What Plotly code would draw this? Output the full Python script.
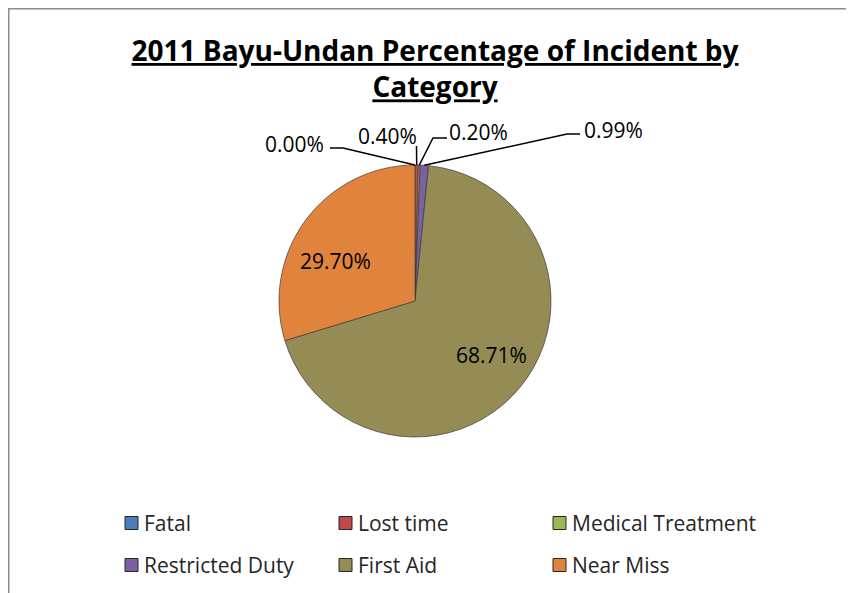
import math
import plotly.graph_objects as go

categories = ["Fatal", "Lost time", "Medical Treatment", "Restricted Duty", "First Aid", "Near Miss"]
percentages = [0.00, 0.40, 0.20, 0.99, 68.71, 29.70]
colors = ["#4A7EBB", "#BE4B48", "#98B954", "#7D60A0", "#958B54", "#E0843D"]
title_lines = ["2011 Bayu-Undan Percentage of Incident by", "Category"]

# the page adds an 8px body margin; work in screen pixels and convert
OFF = 8
W, H = 846, 585
cx, cy, R = 415, 301, 136

def px(x):
    return (x - OFF) / W

def py(y):
    return (H - (y - OFF)) / H

fig = go.Figure()
fig.add_trace(go.Pie(
    labels=categories,
    values=percentages,
    textinfo="none",
    sort=False,
    direction="clockwise",
    rotation=0,
    marker=dict(colors=colors, line=dict(color="rgba(60,60,60,0.7)", width=1)),
    domain=dict(x=[px(cx - R), px(cx + R)], y=[py(cy + R), py(cy - R)]),
    hoverinfo="label+percent",
    showlegend=False,
))

# data-label layout (screen px): text anchor, anchor side, leader elbow points
label_layout = {
    0: dict(tx=326, ty=144, xanchor="right", elbow=[(330, 148), (343, 148)]),
    1: dict(tx=419, ty=136, xanchor="right", elbow=[(416.5, 146)]),
    2: dict(tx=447, ty=132, xanchor="left", elbow=[(447, 138), (433, 138)]),
    3: dict(tx=582, ty=130, xanchor="left", elbow=[(580, 134), (567, 134)]),
    4: dict(tx=491, ty=355, xanchor="center", elbow=None),
    5: dict(tx=335, ty=261, xanchor="center", elbow=None),
}

total = sum(percentages)
cum = 0.0
shapes = []
annotations = []
label_font = dict(family="Open Sans", size=21, color="#000000")
for i, p in enumerate(percentages):
    mid = (cum + p / 2) / total * 2 * math.pi
    cum += p
    L = label_layout[i]
    if L["elbow"] is not None:
        tipx = cx + R * math.sin(mid)
        tipy = cy - R * math.cos(mid)
        pts = L["elbow"] + [(tipx, tipy)]
        path = "M " + " L ".join(f"{px(x):.5f},{py(y):.5f}" for x, y in pts)
        shapes.append(dict(type="path", xref="paper", yref="paper", path=path,
                           line=dict(color="#000000", width=1.5)))
    annotations.append(dict(x=px(L["tx"]), y=py(L["ty"]), xref="paper", yref="paper",
                            text=f"{p:.2f}%", showarrow=False, xanchor=L["xanchor"],
                            yanchor="middle", font=label_font))

# legend: 3 columns x 2 rows (screen px)
leg_x0, leg_y0, col_w, row_h, sym = 125, 523, 214, 42, 13
for i, (name, col) in enumerate(zip(categories, colors)):
    r, c = divmod(i, 3)
    sx = leg_x0 + c * col_w
    sy = leg_y0 + r * row_h
    shapes.append(dict(type="rect", xref="paper", yref="paper",
                       x0=px(sx), x1=px(sx + sym), y0=py(sy + sym / 2), y1=py(sy - sym / 2),
                       fillcolor=col, line=dict(color="#262626", width=1)))
    annotations.append(dict(x=px(sx + 17), y=py(sy), xref="paper", yref="paper",
                            text=name, showarrow=False, xanchor="left", yanchor="middle",
                            font=dict(family="Open Sans", size=21, color="#262626")))

# outer chart frame (as close to the page corner as the figure allows)
shapes.append(dict(type="rect", xref="paper", yref="paper",
                   x0=px(OFF + 0.75), x1=px(848), y0=-0.2, y1=py(OFF + 0.75),
                   line=dict(color="#8C8C8C", width=1.5), fillcolor="rgba(0,0,0,0)"))

fig.update_layout(
    width=W, height=H,
    margin=dict(l=0, r=0, t=0, b=0),
    paper_bgcolor="#FFFFFF",
    plot_bgcolor="#FFFFFF",
    showlegend=False,
    title=dict(
        text="<br>".join(f"<u>{t}</u>" for t in title_lines),
        x=px(435), xanchor="center", y=py(61), yanchor="top",
        font=dict(family="Open Sans", size=28, color="#000000", weight="bold"),
    ),
    shapes=shapes,
    annotations=annotations,
)

fig.write_html("out.html")
